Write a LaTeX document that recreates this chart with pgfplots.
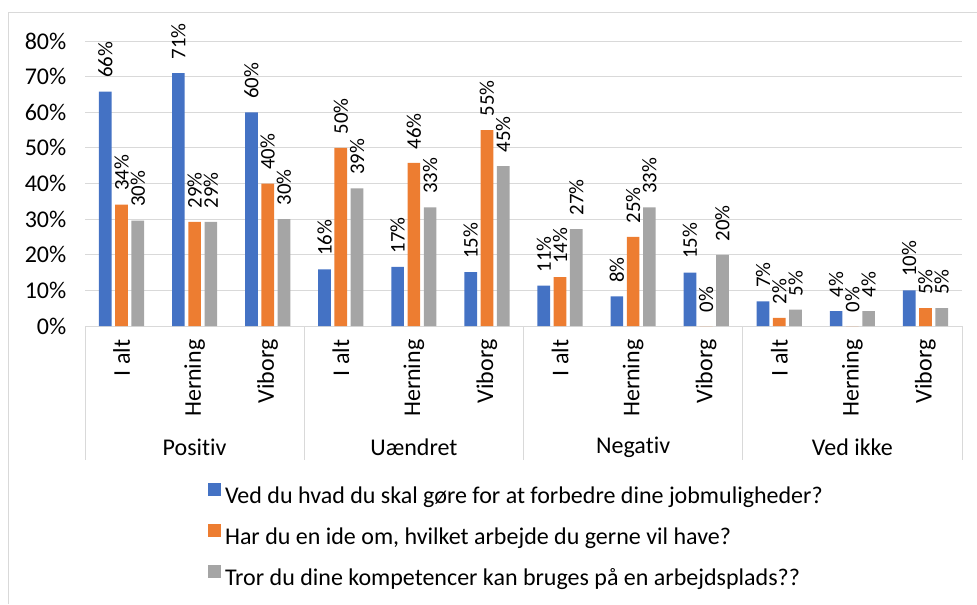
\documentclass[border=0pt]{standalone}
\usepackage{fontspec}
\setmainfont{Carlito}[Ligatures=CommonOff]
\usepackage{pgfplots}
\pgfplotsset{compat=1.18}
\usepackage{pgfplotstable}

\definecolor{xlblue}{HTML}{4472C4}
\definecolor{xlorange}{HTML}{ED7D31}
\definecolor{xlgray}{HTML}{A5A5A5}
\definecolor{xlgrid}{HTML}{D9D9D9}

% x: category index (Positiv, Uændret, Negativ, Ved ikke x I alt, Herning, Viborg)
\pgfplotstableread{
x  a     b     c
0  65.8  34.1  29.6
1  71.0  29.2  29.2
2  60.0  40.0  30.0
3  15.9  50.0  38.6
4  16.6  45.8  33.3
5  15.1  55.0  44.9
6  11.3  13.7  27.2
7   8.3  25.0  33.3
8  15.0   0.0  20.0
9   6.9   2.3   4.6
10  4.2   0.0   4.2
11 10.0   5.0   5.0
}\answers

\pgfplotsset{sqlegend/.style={legend image code/.code={\fill[##1] (0pt,0pt) rectangle (9.75pt,9.75pt);}}}
\newcommand{\lblfont}{\fontsize{18}{21}\selectfont}

\begin{document}
\begin{tikzpicture}
\useasboundingbox (0,0) rectangle (732.75pt,453pt);
\draw[xlgrid, line width=0.75pt] (6pt,0) -- (6pt,443.25pt) -- (733pt,443.25pt);
\begin{axis}[
    at={(63.75pt,208.5pt)}, anchor=south west,
    scale only axis,
    width=657.75pt, height=213.75pt,
    ybar=2.7pt, bar width=9.5pt,
    xmin=-0.5, xmax=11.5, ymin=0, ymax=80,
    axis line style={draw=none},
    major tick length=0pt,
    ymajorgrids, grid style={xlgrid, line width=0.75pt},
    ytick={0,10,...,80},
    yticklabels={0\%,10\%,20\%,30\%,40\%,50\%,60\%,70\%,80\%},
    xtick={0,...,11},
    xticklabels={I alt,Herning,Viborg,I alt,Herning,Viborg,I alt,Herning,Viborg,I alt,Herning,Viborg},
    tick label style={font=\lblfont},
    x tick label style={rotate=90, anchor=east, inner xsep=10pt},
    y tick label style={xshift=-10.5pt},
    /pgf/number format/assume math mode=true,
    nodes near coords={\pgfmathprintnumber[fixed,precision=0]{\pgfplotspointmeta}\%},
    every node near coord/.append style={rotate=90, anchor=west, inner xsep=10pt,
        font=\fontsize{15.6}{18}\selectfont, text=black},
    clip=false,
    legend cell align=left,
    legend style={at={(0.140,-0.55)}, anchor=north west, draw=none, fill=none,
        inner sep=0pt, row sep=12pt, column sep=1pt, font=\lblfont},
]
\addplot[fill=xlblue, draw=none, sqlegend] table[x=x, y=a] {\answers};
\addlegendentry{Ved du hvad du skal gøre for at forbedre dine jobmuligheder?}
\addplot[fill=xlorange, draw=none, sqlegend] table[x=x, y=b] {\answers};
\addlegendentry{Har du en ide om, hvilket arbejde du gerne vil have?}
\addplot[fill=xlgray, draw=none, sqlegend] table[x=x, y=c] {\answers};
\addlegendentry{Tror du dine kompetencer kan bruges på en arbejdsplads??}

% category boxes below the axis
\pgfplotsinvokeforeach{-0.5,2.5,5.5,8.5,11.5}{
    \draw[xlgrid, line width=0.75pt] (axis cs:#1,0) -- ([yshift=-100.5pt]axis cs:#1,0);
}
\node[font=\lblfont] at ([yshift=-90.75pt]axis cs:1,0) {Positiv};
\node[font=\lblfont] at ([yshift=-90.75pt]axis cs:4,0) {Uændret};
\node[font=\lblfont] at ([yshift=-90.75pt]axis cs:7,0) {Negativ};
\node[font=\lblfont] at ([yshift=-90.75pt]axis cs:10,0) {Ved ikke};
\end{axis}
\end{tikzpicture}
\end{document}
